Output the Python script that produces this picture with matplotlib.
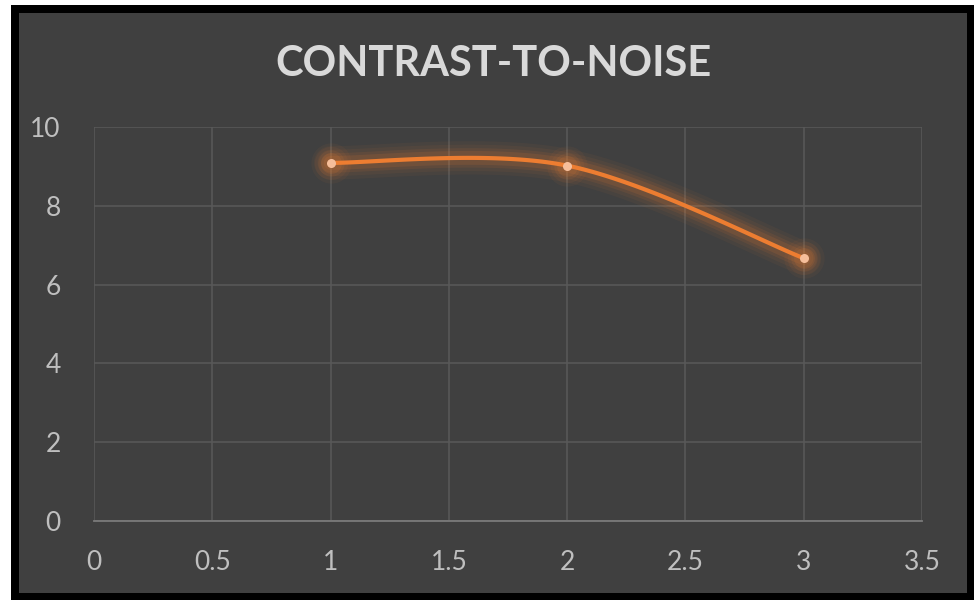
import numpy as np
import matplotlib.pyplot as plt
from matplotlib.patches import Rectangle

# contrast-to-noise ratio per step
x_vals = [1, 2, 3]
cnr = [9.09, 9.02, 6.67]

x_ticks = [0, 0.5, 1, 1.5, 2, 2.5, 3, 3.5]
x_ticklabels = ["0", "0.5", "1", "1.5", "2", "2.5", "3", "3.5"]
y_ticks = [0, 2, 4, 6, 8, 10]

BG = "#404040"
GRID = "#595959"
TXT = "#BFBFBF"
ORANGE = "#ED7D31"
PEACH = "#F6BE9A"
FONT = "Lato"


def smooth_curve(xs, ys, n=60):
    """Bezier smoothing through every point (same scheme spreadsheets use)."""
    pts = np.column_stack([xs, ys]).astype(float)
    out = []
    for i in range(len(pts) - 1):
        p0 = pts[max(i - 1, 0)]
        p1 = pts[i]
        p2 = pts[i + 1]
        p3 = pts[min(i + 2, len(pts) - 1)]
        c1 = p1 + (p2 - p0) / 6.0
        c2 = p2 - (p3 - p1) / 6.0
        t = np.linspace(0, 1, n)[:, None]
        seg = ((1 - t) ** 3) * p1 + 3 * ((1 - t) ** 2) * t * c1 \
            + 3 * (1 - t) * t ** 2 * c2 + t ** 3 * p2
        out.append(seg if i == 0 else seg[1:])
    seg = np.vstack(out)
    return seg[:, 0], seg[:, 1]


W, H = 974, 606
fig = plt.figure(figsize=(W / 100, H / 100), dpi=100, facecolor="white")

# black frame and dark chart area
fig.patches.append(Rectangle((11 / W, 1 - 600 / H), 963 / W, 595 / H,
                             transform=fig.transFigure, facecolor="black",
                             edgecolor="none", zorder=-2))
fig.patches.append(Rectangle((19 / W, 1 - 593 / H), 948 / W, 580 / H,
                             transform=fig.transFigure, facecolor=BG,
                             edgecolor="none", zorder=-1))

ax = fig.add_axes([94 / W, 1 - 521 / H, 828 / W, 394 / H])
ax.set_facecolor(BG)
ax.set_xlim(0, 3.5)
ax.set_ylim(0, 10)
ax.set_xticks(x_ticks)
ax.set_xticklabels(x_ticklabels)
ax.set_yticks(y_ticks)
ax.grid(True, color=GRID, linewidth=1.1)
ax.set_axisbelow(True)
for side in ["top", "right", "left"]:
    ax.spines[side].set_visible(False)
ax.spines["bottom"].set_color("#7A7A7A")
ax.spines["bottom"].set_linewidth(1.3)
ax.tick_params(length=0, colors=TXT, labelsize=19, pad=21)
ax.tick_params(axis="y", pad=24)
for lab in ax.get_xticklabels() + ax.get_yticklabels():
    lab.set_fontfamily(FONT)

sx, sy = smooth_curve(x_vals, cnr)

# soft glow under the line and markers
for w, a in [(24, 0.05), (19, 0.06), (14, 0.09), (10, 0.12)]:
    ax.plot(sx, sy, color=ORANGE, linewidth=w, alpha=a,
            solid_capstyle="round", zorder=2)
    ax.plot(x_vals, cnr, "o", color=ORANGE, markersize=w + 5, alpha=a,
            markeredgewidth=0, zorder=2)

ax.plot(sx, sy, color=ORANGE, linewidth=3, solid_capstyle="round", zorder=3)
ax.plot(x_vals, cnr, "o", color=PEACH, markersize=6.5, markeredgewidth=0,
        zorder=4)

fig.text(493 / W, 1 - 64 / H, "CONTRAST-TO-NOISE", ha="center", va="center",
         color="#D9D9D9", fontsize=30, fontweight="bold", family=FONT)

fig.savefig("out.png", dpi=100, facecolor="white")
